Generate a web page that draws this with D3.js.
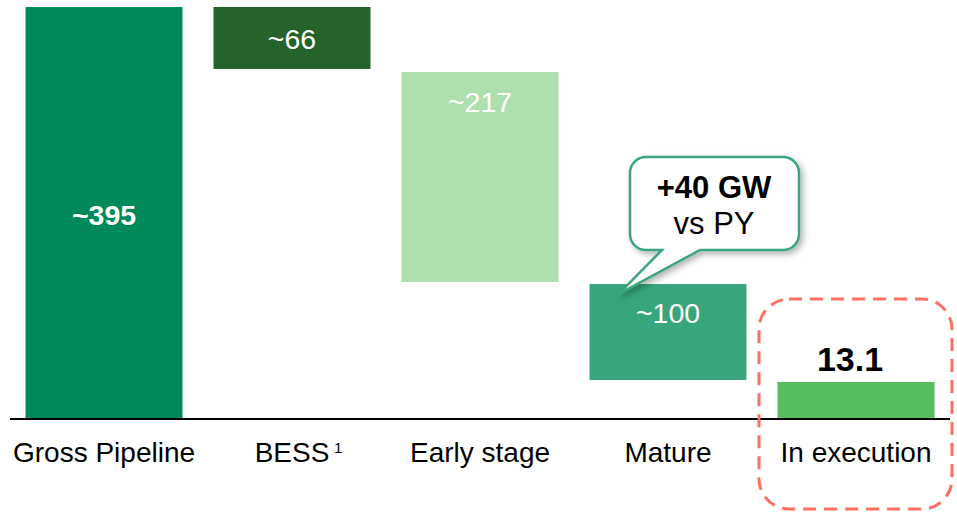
<!DOCTYPE html>
<html><head><meta charset="utf-8">
<script src="https://cdn.jsdelivr.net/npm/d3@7"></script>
<style>body{margin:0;background:#fff}svg{display:block}text{font-family:"Liberation Sans",Arial,sans-serif}</style>
</head><body>
<svg id="c" width="957" height="513"></svg>
<script>
const categories = ["Gross Pipeline", "BESS", "Early stage", "Mature", "In execution"];
const valueLabels = ["~395", "~66", "~217", "~100", "13.1"];
// drawn extents of each floating bar (GW)
const barTop    = [395, 395, 332.7, 129.4, 35.5];
const barBottom = [0, 335.6, 131.4, 37.4, 0];
const colors = ["#008a5a", "#26632b", "#aee0af", "#37a67c", "#55be5e"];

const svg = d3.select("#c");
const x = d3.scaleBand().domain(categories).range([10, 950]).paddingInner(0.165).paddingOuter(0.0825);
const y = d3.scaleLinear().domain([0, 395]).range([419, 7]);

const defs = svg.append("defs");
const f = defs.append("filter").attr("id","sh").attr("x","-20%").attr("y","-20%").attr("width","150%").attr("height","150%");
f.append("feDropShadow").attr("dx",3).attr("dy",3).attr("stdDeviation",3).attr("flood-color","#000").attr("flood-opacity",0.3);

const data = categories.map((c,i)=>({c, lab:valueLabels[i], t:barTop[i], b:barBottom[i], col:colors[i], i}));

svg.selectAll("rect.bar").data(data).join("rect").attr("class","bar")
  .attr("x", d=>x(d.c)).attr("width", x.bandwidth())
  .attr("y", d=>y(d.t)).attr("height", d=>y(d.b)-y(d.t))
  .attr("fill", d=>d.col);

// axis baseline
svg.append("line").attr("x1",10).attr("x2",950).attr("y1",y(0)).attr("y2",y(0)).attr("stroke","#000").attr("stroke-width",2);

// value labels
const cx = d=>x(d.c)+x.bandwidth()/2;
const labelY = [225, 49, 111.5, 323, 371];
svg.selectAll("text.val").data(data).join("text").attr("class","val")
  .attr("x", (d)=> d.i===4 ? cx(d)-6 : cx(d)).attr("y", d=>labelY[d.i])
  .attr("text-anchor","middle")
  .attr("font-size", d=> d.i===4 ? 34 : 28.5)
  .attr("font-weight", d=> (d.i===0||d.i===4) ? "bold" : "normal")
  .attr("fill", d=> d.i===4 ? "#000" : "#fff")
  .text(d=>d.lab);

// category labels
svg.selectAll("text.cat").data(data).join("text").attr("class","cat")
  .attr("x", d=>cx(d)).attr("y", 462).attr("text-anchor","middle")
  .attr("font-size",28).attr("fill","#000").text(d=>d.c);
svg.append("text").attr("x", cx(data[1])+42).attr("y",453).attr("font-size",15).text("1");

// callout
const bx=630, by=157, bw=169, bh=93, r=16;
const tipX = x("Mature")+29, tipY = y(barTop[3])+10;
const p = d3.path();
p.moveTo(bx+r,by); p.lineTo(bx+bw-r,by); p.arcTo(bx+bw,by,bx+bw,by+r,r);
p.lineTo(bx+bw,by+bh-r); p.arcTo(bx+bw,by+bh,bx+bw-r,by+bh,r);
p.lineTo(700,by+bh); p.lineTo(tipX,tipY); p.lineTo(662,by+bh);
p.lineTo(bx+r,by+bh); p.arcTo(bx,by+bh,bx,by+bh-r,r);
p.lineTo(bx,by+r); p.arcTo(bx,by,bx+r,by,r); p.closePath();
svg.append("path").attr("d",p.toString()).attr("fill","#fff").attr("stroke","#3aa57d").attr("stroke-width",2.5).attr("filter","url(#sh)");
svg.append("text").attr("x",714).attr("y",198).attr("text-anchor","middle").attr("font-size",31).attr("font-weight","bold").text("+40 GW");
svg.append("text").attr("x",714).attr("y",234).attr("text-anchor","middle").attr("font-size",31).text("vs PY");

// dashed highlight box
svg.append("rect").attr("x",759).attr("y",299).attr("width",193).attr("height",210).attr("rx",30).attr("ry",30)
  .attr("fill","none").attr("stroke","#ff6f61").attr("stroke-width",3).attr("stroke-dasharray","13,8");
</script>
</body></html>
